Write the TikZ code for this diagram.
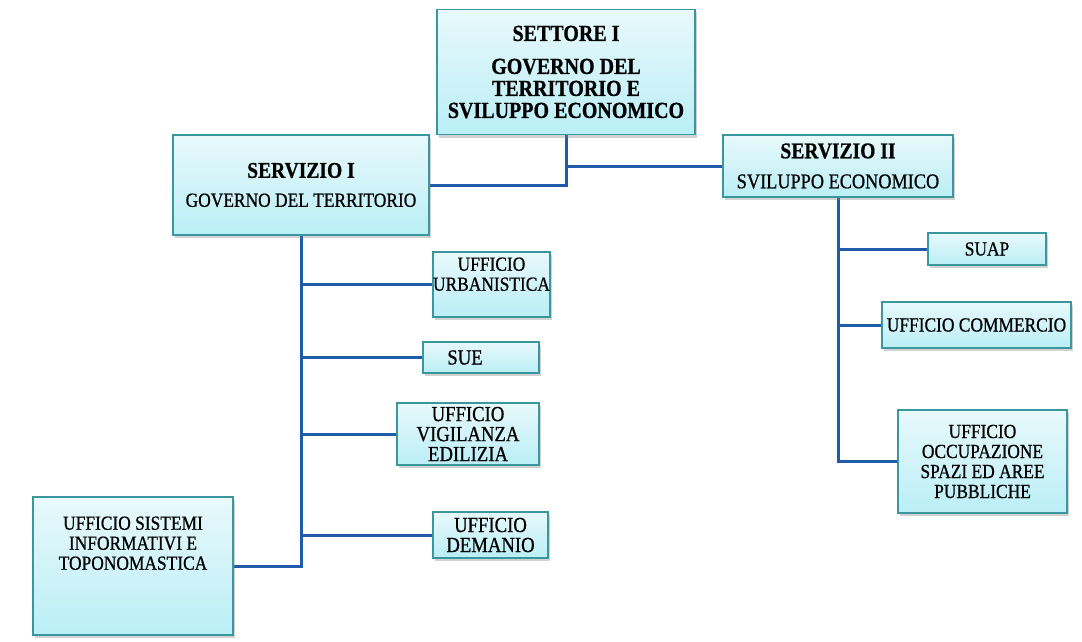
\documentclass[tikz,border=0pt]{standalone}
\usepackage{fontspec}
\setmainfont{Liberation Serif}[FakeStretch=0.87, FakeBold=0.7]
\usetikzlibrary{shadows,backgrounds}
\definecolor{boxtop}{HTML}{E8F9FB}
\definecolor{boxbot}{HTML}{BAEEF6}
\definecolor{boxedge}{HTML}{3A979E}
\definecolor{linecol}{HTML}{1F5BA8}
\newcommand\myfs[2]{\fontsize{#1}{#2}\selectfont}
\tikzset{
  box/.style={draw=boxedge, line width=1.4pt, top color=boxtop, bottom color=boxbot,
    drop shadow={opacity=0.35, shadow xshift=2pt, shadow yshift=-3pt},
    inner sep=0pt, align=center, font=\myfs{20}{20}},
  lab/.style={inner sep=0pt, align=center, font=\myfs{20}{20}},
  conn/.style={draw=linecol, line width=3pt},
}
\begin{document}
\begin{tikzpicture}[x=1pt,y=-1pt]
\useasboundingbox (0,0) rectangle (1082,642);
% boxes
\node[box, minimum width=258pt, minimum height=125pt, font=\bfseries\myfs{23}{22}] (set) at (566,72)
  {SETTORE I\\[11pt]GOVERNO DEL\\TERRITORIO E\\SVILUPPO ECONOMICO};
\node[box, minimum width=256pt, minimum height=100pt, font=\myfs{20}{20}] (s1) at (301,185)
  {{\bfseries\myfs{22.5}{20}SERVIZIO I}\\[9pt]GOVERNO DEL TERRITORIO};
\node[box, minimum width=230pt, minimum height=62pt, font=\myfs{21}{20}] (s2) at (838,166)
  {{\bfseries\myfs{22.5}{20}SERVIZIO II}\\[10pt]SVILUPPO ECONOMICO};
\node[box, minimum width=117pt, minimum height=65pt,
  label={[lab, anchor=north, yshift=-6pt]north:{UFFICIO\\URBANISTICA}}] (urb) at (491.5,284.5) {};
\node[box, minimum width=116pt, minimum height=31pt,
  label={[lab, font=\myfs{21.5}{20}, xshift=-16pt]center:SUE}] (sue) at (481,357.5) {};
\node[box, minimum width=142pt, minimum height=62pt, font=\myfs{21.5}{20}] (vig) at (468,434)
  {UFFICIO\\VIGILANZA\\EDILIZIA};
\node[box, minimum width=115pt, minimum height=46pt, font=\myfs{21.5}{20}] (dem) at (490.5,535)
  {UFFICIO\\DEMANIO};
\node[box, minimum width=200pt, minimum height=138pt,
  label={[lab, anchor=north, yshift=-20pt]north:{UFFICIO SISTEMI\\INFORMATIVI E\\TOPONOMASTICA}}] (sist) at (133,566) {};
\node[box, minimum width=118pt, minimum height=32pt] (suap) at (987,249) {SUAP};
\node[box, minimum width=189pt, minimum height=46pt] (comm) at (976.5,325) {UFFICIO COMMERCIO};
\node[box, minimum width=169pt, minimum height=103pt] (occ) at (982.5,461.5)
  {UFFICIO\\OCCUPAZIONE\\SPAZI ED AREE\\PUBBLICHE};
% connectors
\begin{pgfonlayer}{background}
\fill[white] (0,0) rectangle (1082,642);
\draw[conn] (set.south) |- (s1.east);
\draw[conn] (set.south |- s2.west) -- (s2.west);
\draw[conn] (s1.south) |- (sist.east);
\foreach \n in {urb,sue,vig,dem} \draw[conn] (s1.south |- \n.west) -- (\n.west);
\draw[conn] (s2.south) |- (occ.west);
\foreach \n in {suap,comm} \draw[conn] (s2.south |- \n.west) -- (\n.west);
\end{pgfonlayer}
\end{tikzpicture}
\end{document}
